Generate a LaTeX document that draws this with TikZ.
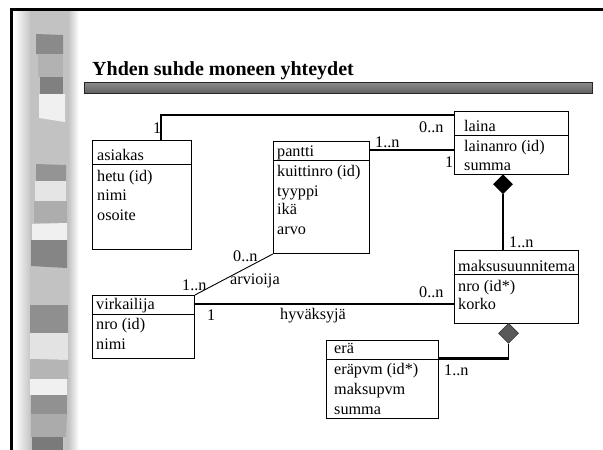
\documentclass[tikz,border=0pt]{standalone}
\usepackage{fontspec}
\setmainfont{Liberation Serif}
\usetikzlibrary{shapes.geometric,calc}

\newcommand{\entfont}{\fontsize{16.2}{19}\selectfont}
\newcommand{\headfont}{\fontsize{20}{24}\selectfont\bfseries}

\tikzset{
  cls/.style={draw, line width=0.9pt, inner sep=0pt, anchor=north west},
  attr/.style={anchor=base west, inner sep=0pt, font=\entfont},
  mult/.style={anchor=base west, inner sep=0pt, font=\entfont},
  assoc/.style={line width=2.3pt},
  link/.style={line width=0.9pt},
  sep/.style={line width=0.9pt},
}

\begin{document}
\begin{tikzpicture}[x=1pt, y=-1pt]
\useasboundingbox (0,0) rectangle (603,450);
\fill[white] (0,0) rectangle (603,450);

% decorative side column
\shade[left color=white, right color=black!22] (14,10) rectangle (30,450);
\fill[black!24] (30,10) rectangle (68,450);
\shade[left color=black!24, right color=white] (68,10) rectangle (79,450);
\fill[black!46] (36,34) -- (63,35) -- (63,54) -- (36,54) -- cycle;
\fill[black!30] (38,54) rectangle (63,77);
\fill[black!50] (40,77) rectangle (63,94);
\fill[black!6]  (39,94) -- (65,94) -- (65,122) -- (39,118) -- cycle;
\fill[black!42] (36,164) -- (66,165) -- (66,181) -- (36,181) -- cycle;
\fill[black!10] (35,181) rectangle (66,201);
\fill[black!32] (34,201) rectangle (67,223);
\fill[black!6]  (32,224) -- (67,223) -- (67,240) -- (32,240) -- cycle;
\fill[black!48] (31,240) -- (67,240) -- (67,268) -- (31,266) -- cycle;
\fill[black!44] (30,305) rectangle (68,333);
\fill[black!11] (30,333) -- (68,333) -- (68,360) -- (30,359) -- cycle;
\fill[black!29] (30,359) -- (68,360) -- (68,379) -- (30,379) -- cycle;
\fill[black!6]  (30,379) rectangle (67,395);
\fill[black!43] (31,395) rectangle (67,414);
\fill[black!33] (31,414) -- (67,414) -- (66,437) -- (31,437) -- cycle;
\fill[black!52] (32,437) rectangle (63,450);

% slide frame
\draw[line width=2.2pt] (11.5,451) -- (11.5,9.5) -- (604,9.5);

% heading and rule
\node[anchor=base west, inner sep=0pt, font=\headfont] (head) at (92,75) {Yhden suhde moneen yhteydet};
\shade[top color=black!45, bottom color=black!62] (84,82) rectangle (592,93);
\draw[black!85, line width=0.9pt] (84,82) rectangle (592,93);

% classes
\node[cls, minimum width=99pt, minimum height=109pt] (asiakas) at (92,140) {};
\draw[sep] (asiakas.west |- 0,164) -- (asiakas.east |- 0,164);
\node[attr] (asiakas-n) at (97,160) {asiakas};
\node[attr] (asiakas-a1) at (97,181) {hetu (id)};
\node[attr] (asiakas-a2) at (97,200) {nimi};
\node[attr] (asiakas-a3) at (97,220) {osoite};

\node[cls, minimum width=96pt, minimum height=112pt] (pantti) at (273,141) {};
\draw[sep] (pantti.west |- 0,160) -- (pantti.east |- 0,160);
\node[attr] (pantti-n) at (277,156) {pantti};
\node[attr] (pantti-a1) at (277,176) {kuittinro (id)};
\node[attr] (pantti-a2) at (277,196) {tyyppi};
\node[attr] (pantti-a3) at (277,214) {ikä};
\node[attr] (pantti-a4) at (277,234) {arvo};

\node[cls, minimum width=114pt, minimum height=63pt] (laina) at (454,111) {};
\draw[sep] (laina.west |- 0,135) -- (laina.east |- 0,135);
\node[attr] (laina-n) at (464,131) {laina};
\node[attr] (laina-a1) at (464,151) {lainanro (id)};
\node[attr] (laina-a2) at (464,170) {summa};

\node[cls, minimum width=124pt, minimum height=73pt] (maksu) at (454,250) {};
\draw[sep] (maksu.west |- 0,274) -- (maksu.east |- 0,274);
\node[attr] (maksu-n) at (458,271) {maksusuunnitema};
\node[attr] (maksu-a1) at (458,291) {nro (id*)};
\node[attr] (maksu-a2) at (458,309) {korko};

\node[cls, minimum width=102pt, minimum height=63pt] (virk) at (92,295) {};
\draw[sep] (virk.west |- 0,314) -- (virk.east |- 0,314);
\node[attr] (virk-n) at (96,309) {virkailija};
\node[attr] (virk-a1) at (96,329) {nro (id)};
\node[attr] (virk-a2) at (96,349) {nimi};

\node[cls, minimum width=112pt, minimum height=78pt] (era) at (326,340) {};
\draw[sep] (era.west |- 0,359) -- (era.east |- 0,359);
\node[attr] (era-n) at (334,353) {erä};
\node[attr] (era-a1) at (334,374) {eräpvm (id*)};
\node[attr] (era-a2) at (334,394) {maksupvm};
\node[attr] (era-a3) at (334,414) {summa};

% aggregation diamonds
\node[diamond, fill=black, inner sep=0pt, minimum width=20pt, minimum height=20pt, anchor=north] (comp) at (503,174) {};
\node[diamond, fill=black!65, draw=black!80, line width=0.6pt, inner sep=0pt, minimum width=20pt, minimum height=20pt, anchor=north] (agg) at (508.5,323) {};

% associations
\draw[assoc] ($(asiakas.north west)+(69,0)$) |- ($(laina.north west)+(0,4)$);
\draw[assoc] ($(pantti.north east)+(0,9)$) -- ($(laina.north west)+(0,39)$);
\draw[line width=1.8pt] (comp.south) -- (comp.south |- maksu.north);
\draw[assoc] (virk.east |- 0,304) -- (maksu.west |- 0,304);
\draw[link] (virk.north east) -- (pantti.south west);
\draw[line width=1.8pt] (agg.south) -- (agg.south |- 0,358.5);
\draw[assoc] (agg.south |- 0,358.5) -- (era.east |- 0,358.5);

% multiplicities and role names
\node[mult] (m1) at (153,133) {1};
\node[mult] (m2) at (419,132) {0..n};
\node[mult] (m3) at (375,147) {1..n};
\node[mult] (m4) at (445,167) {1};
\node[mult] (m5) at (509,247) {1..n};
\node[mult] (m6) at (233,261) {0..n};
\node[mult] (r1) at (230,284) {arvioija};
\node[mult] (m7) at (182,290) {1..n};
\node[mult] (m8) at (419,297) {0..n};
\node[mult] (m9) at (207,320) {1};
\node[mult] (r2) at (280,319) {hyväksyjä};
\node[mult] (m10) at (444,375) {1..n};
\end{tikzpicture}
\end{document}
